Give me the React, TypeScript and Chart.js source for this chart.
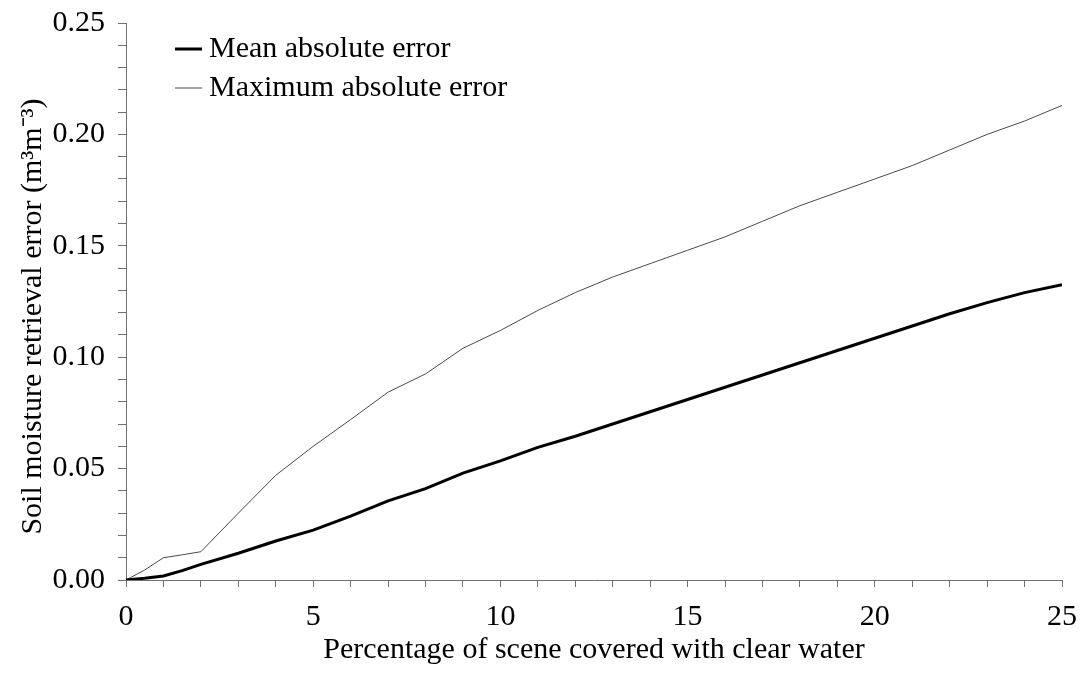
import React, { useEffect, useRef } from 'react';
import { Chart, registerables } from 'chart.js';

Chart.register(...registerables);

// Percentage of scene covered with clear water
const waterPercent = [0, 0.5, 1, 1.5, 2, 3, 4, 5, 6, 7, 8, 9, 10, 11, 12, 13, 14, 15, 16, 17, 18, 19, 20, 21, 22, 23, 24, 25];
// Mean absolute error (m3 m-3)
const meanAbsError = [0, 0.0008, 0.0018, 0.0042, 0.007, 0.012, 0.0175, 0.0224, 0.0287, 0.0355, 0.041, 0.048, 0.0535, 0.0595, 0.0645, 0.07, 0.0755, 0.081, 0.0865, 0.092, 0.0975, 0.103, 0.1085, 0.114, 0.1195, 0.1245, 0.129, 0.1325];
// Maximum absolute error (m3 m-3)
const maxAbsError = [0, 0.0045, 0.01, 0.0113, 0.0127, 0.03, 0.047, 0.06, 0.072, 0.0843, 0.0925, 0.104, 0.112, 0.121, 0.129, 0.136, 0.142, 0.148, 0.154, 0.161, 0.168, 0.174, 0.18, 0.186, 0.193, 0.2, 0.206, 0.213];

const seriesLabels = ['Mean absolute error', 'Maximum absolute error'];
const xTitle = 'Percentage of scene covered with clear water';
const yTitle = 'Soil moisture retrieval error (m\u00B3m\u207B\u00B3)\u2002\u2002';

const FONT_FAMILY = '"Liberation Serif", "Times New Roman", serif';
const FONT_SIZE = 30;
const AXIS_COLOR = '#707070';

const insideLegend = {
  id: 'insideLegend',
  afterDraw(chart: any) {
    const { ctx, chartArea } = chart;
    ctx.save();
    chart.data.datasets.forEach((ds: any, i: number) => {
      const y = chartArea.top + 26 + i * 39;
      ctx.strokeStyle = ds.borderColor;
      ctx.lineWidth = ds.borderWidth;
      ctx.beginPath();
      ctx.moveTo(chartArea.left + 49, y);
      ctx.lineTo(chartArea.left + 76, y);
      ctx.stroke();
      ctx.fillStyle = '#000';
      ctx.font = `${FONT_SIZE}px ${FONT_FAMILY}`;
      ctx.textBaseline = 'middle';
      ctx.textAlign = 'left';
      ctx.fillText(ds.label, chartArea.left + 83, y);
    });
    ctx.restore();
  },
};

export default function App() {
  const canvasRef = useRef<HTMLCanvasElement | null>(null);

  useEffect(() => {
    if (!canvasRef.current) return;
    const font = { family: FONT_FAMILY, size: FONT_SIZE };
    const chart = new Chart(canvasRef.current, {
      type: 'line',
      data: {
        datasets: [
          {
            label: seriesLabels[0],
            data: waterPercent.map((x, i) => ({ x, y: meanAbsError[i] })),
            borderColor: '#000000',
            borderWidth: 3,
            pointRadius: 0,
            tension: 0,
            fill: false,
          },
          {
            label: seriesLabels[1],
            data: waterPercent.map((x, i) => ({ x, y: maxAbsError[i] })),
            borderColor: '#4a4a4a',
            borderWidth: 1,
            pointRadius: 0,
            tension: 0,
            fill: false,
          },
        ],
      },
      options: {
        responsive: false,
        animation: false,
        layout: { padding: { top: 23, right: 25, left: 0, bottom: 0 } },
        plugins: {
          legend: { display: false },
          tooltip: { enabled: false },
        },
        scales: {
          x: {
            type: 'linear',
            min: 0,
            max: 25,
            afterFit: (s: any) => {
              s.height = 93;
            },
            ticks: {
              stepSize: 1,
              autoSkip: false,
              maxRotation: 0,
              padding: 12,
              color: '#000',
              font,
              callback: (v: any) => (Math.round(v) % 5 === 0 ? String(Math.round(v)) : ''),
            },
            grid: {
              drawOnChartArea: false,
              drawTicks: true,
              tickLength: 7,
              tickColor: AXIS_COLOR,
              lineWidth: 1,
            },
            border: { display: true, color: AXIS_COLOR, width: 1 },
            title: {
              display: true,
              text: xTitle,
              color: '#000',
              font,
              padding: { top: 0, bottom: 5 },
            },
          },
          y: {
            type: 'linear',
            min: 0,
            max: 0.25,
            afterFit: (s: any) => {
              s.width = 126;
              s.paddingTop = 0;
              s.paddingBottom = 0;
            },
            ticks: {
              stepSize: 0.01,
              autoSkip: false,
              padding: 13,
              color: '#000',
              font,
              callback: (v: any) => {
                const n = Math.round(Number(v) * 100);
                return n % 5 === 0 ? (n / 100).toFixed(2) : '';
              },
            },
            grid: {
              drawOnChartArea: false,
              drawTicks: true,
              tickLength: 8,
              tickColor: AXIS_COLOR,
              lineWidth: 1,
            },
            border: { display: true, color: AXIS_COLOR, width: 1 },
            title: {
              display: true,
              text: yTitle,
              color: '#000',
              font,
              padding: { top: 15, bottom: 0 },
            },
          },
        },
      },
      plugins: [insideLegend],
    });
    return () => chart.destroy();
  }, []);

  return (
    <div style={{ position: 'fixed', left: 0, top: 0, width: 1089, height: 673, background: '#fff' }}>
      <canvas ref={canvasRef} width={1089} height={673} style={{ display: 'block' }} />
    </div>
  );
}
